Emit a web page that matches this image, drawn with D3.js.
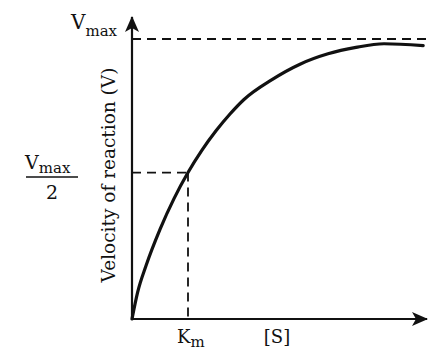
<!DOCTYPE html>
<html>
<head>
<meta charset="utf-8">
<script src="https://cdn.jsdelivr.net/npm/d3@7"></script>
<style>
  body { margin: 0; background: #fff; }
  text { font-family: "DejaVu Serif", serif; fill: #111; }
</style>
</head>
<body>
<svg id="chart"></svg>
<script>
// substrate conc. in units of Km, velocity in units of Vmax
var substrate = [0, 0.1, 0.25, 0.5, 0.75, 1.0, 1.25, 1.5, 1.75, 2.0,
                 2.5, 3.0, 3.5, 4.0, 4.5, 5.2];
var velocity  = [0, 0.095, 0.19, 0.32, 0.43, 0.523, 0.603, 0.672, 0.732, 0.784,
                 0.855, 0.91, 0.947, 0.970, 0.983, 0.976];
var km = 1.0;
var vmax = 1.0;
var halfV = 0.523;

var width = 446, height = 353;

var svg = d3.select("#chart")
      .attr("width", width)
      .attr("height", height)

var x = d3.scaleLinear().domain([0, 5.25]).range([132, 426]);
var y = d3.scaleLinear().domain([0, 1]).range([319, 39]);

// arrow heads
var defs = svg.append("defs");
defs.append("marker")
  .attr("id", "arrow")
  .attr("viewBox", "0 0 16 14")
  .attr("refX", 15).attr("refY", 7)
  .attr("markerWidth", 16).attr("markerHeight", 14)
  .attr("markerUnits", "userSpaceOnUse")
  .attr("orient", "auto")
  .append("path")
  .attr("d", "M0,0 L16,7 L0,14 L4,7 Z")
  .attr("fill", "#111");

// axes without ticks
var xAxis = svg.append("g")
  .attr("transform", "translate(0," + y(0) + ")")
  .call(d3.axisBottom(x).ticks(0).tickSizeOuter(0));
var yAxis = svg.append("g")
  .attr("transform", "translate(" + x(0) + ",0)")
  .call(d3.axisLeft(y).ticks(0).tickSizeOuter(0));

svg.selectAll(".domain")
  .attr("stroke", "#111")
  .attr("stroke-width", 2.2)
  .attr("marker-end", "url(#arrow)");
xAxis.select(".domain").attr("d", "M" + x(0) + ",0H" + (x(5.25) + 1));
// y axis path runs upward so the arrow points up
yAxis.select(".domain").attr("d", "M0," + (y(0) + 1) + "L0,17");

// dashed guide lines
var dash = "9,6";
function guide(x1, y1, x2, y2) {
  svg.append("line")
    .attr("x1", x(x1)).attr("x2", x(x2))
    .attr("y1", y(y1)).attr("y2", y(y2))
    .attr("stroke", "#111").attr("stroke-width", 1.8)
    .attr("stroke-dasharray", dash);
}
guide(0, vmax, 5.3, vmax);
guide(0, halfV, km, halfV);
guide(km, halfV, km, 0);

// curve
var pts = substrate.map(function(d, i) { return [d, velocity[i]]; });
var line = d3.line()
  .x(function(d) { return x(d[0]); })
  .y(function(d) { return y(d[1]); })
  .curve(d3.curveMonotoneX);
svg.append("path")
  .datum(pts)
  .attr("d", line)
  .attr("fill", "none")
  .attr("stroke", "#111")
  .attr("stroke-width", 3.2)
  .attr("stroke-linecap", "round");

// labels
var vTop = svg.append("text").attr("x", 71).attr("y", 29);
vTop.append("tspan").attr("font-size", 20).text("V");
vTop.append("tspan").attr("font-size", 15).attr("dy", 7).text("max");

var vHalf = svg.append("text").attr("x", 25).attr("y", 169);
vHalf.append("tspan").attr("font-size", 19).text("V");
vHalf.append("tspan").attr("font-size", 15).attr("dy", 4).text("max");
svg.append("line")
  .attr("x1", 26).attr("x2", 78)
  .attr("y1", 177).attr("y2", 177)
  .attr("stroke", "#111").attr("stroke-width", 1.5);
svg.append("text")
  .attr("x", 52).attr("y", 199)
  .attr("text-anchor", "middle")
  .attr("font-size", 19)
  .text("2");

svg.append("text")
  .attr("transform", "translate(115,175) rotate(-90)")
  .attr("text-anchor", "middle")
  .attr("font-size", 18.5)
  .text("Velocity of reaction (V)");

var kmLabel = svg.append("text").attr("x", 177).attr("y", 343);
kmLabel.append("tspan").attr("font-size", 18).text("K");
kmLabel.append("tspan").attr("font-size", 15).attr("dy", 4).text("m");

svg.append("text")
  .attr("x", 277).attr("y", 343)
  .attr("text-anchor", "middle")
  .attr("font-size", 18)
  .text("[S]");
</script>
</body>
</html>
